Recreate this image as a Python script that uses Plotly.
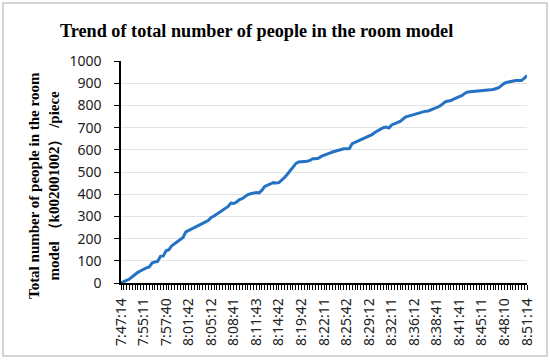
import plotly.graph_objects as go

# Data
people = [
    0, 5, 10, 18, 28, 40, 48, 55, 62, 68,
    72, 90, 95, 97, 120, 122, 145, 150, 168, 178,
    188, 198, 205, 230, 236, 242, 250, 256, 262, 268,
    275, 282, 295, 302, 310, 320, 330, 338, 345, 360,
    358, 365, 376, 380, 388, 398, 402, 405, 408, 406,
    418, 435, 442, 446, 452, 450, 452, 462, 475, 490,
    505, 520, 538, 545, 545, 545, 548, 552, 560, 560,
    562, 570, 576, 580, 585, 590, 594, 597, 600, 605,
    605, 606, 628, 634, 640, 645, 650, 656, 662, 668,
    678, 686, 694, 700, 702, 698, 712, 716, 722, 728,
    738, 748, 752, 756, 760, 764, 768, 772, 774, 775,
    780, 786, 790, 796, 806, 816, 820, 822, 828, 835,
    840, 845, 855, 860, 861, 862, 862, 864, 866, 868,
    869, 870, 872, 876, 880, 890, 900, 904, 907, 910,
    912, 912, 912, 922, 935,
]
time_labels = [
    "7:47:14", "7:55:11", "7:57:40", "8:01:42", "8:05:12", "8:08:41",
    "8:11:43", "8:14:42", "8:19:42", "8:22:11", "8:25:42", "8:29:12",
    "8:32:11", "8:36:12", "8:38:41", "8:41:41", "8:45:11", "8:48:10",
    "8:51:14",
]
label_step = 8
y_ticks = list(range(0, 1001, 100))

idx = list(range(len(people)))
tick_pos = [i * label_step for i in range(len(time_labels))]

fig = go.Figure()
fig.add_trace(go.Scatter(
    x=idx, y=people, mode="lines",
    line=dict(color="#2472c4", width=3),
    hoverinfo="skip",
))

L, R, T, B = 121, 23, 61, 79
W, H = 550, 362
pw, ph = W - L - R, H - T - B

def px_x(p):
    return (p - L) / pw

def px_y(p):
    return (H - B - p) / ph

fig.update_layout(
    width=W, height=H,
    margin=dict(l=L, r=R, t=T, b=B),
    paper_bgcolor="white", plot_bgcolor="white",
    showlegend=False,
    xaxis=dict(
        range=[0, len(people) - 1],
        tickmode="array", tickvals=tick_pos, ticktext=time_labels,
        tickangle=-90,
        ticks="outside", ticklen=5, tickcolor="black", tickwidth=1,
        minor=dict(ticks="outside", ticklen=5, tickcolor="black", dtick=1, tickwidth=1, showgrid=False),
        showline=True, linecolor="black", linewidth=1.5,
        showgrid=False, zeroline=False,
        tickfont=dict(family="Noto Sans", size=14, color="#222"),
        ticklabelstandoff=3,
    ),
    yaxis=dict(
        range=[0, 1000],
        tickmode="array", tickvals=y_ticks,
        ticks="outside", ticklen=5, tickcolor="black",
        showline=True, linecolor="black", linewidth=1.5,
        showgrid=True, gridcolor="#e3e3e3", gridwidth=1,
        zeroline=False,
        tickfont=dict(family="Noto Sans", size=14, color="#222"),
        ticklabelstandoff=10,
    ),
)

fig.add_annotation(
    text="<b>Trend of total number of people in the room model</b>",
    xref="paper", yref="paper",
    x=px_x(256), y=px_y(31),
    xanchor="center", yanchor="middle", showarrow=False,
    font=dict(family="Liberation Serif", size=18.2, color="black"),
)

fig.add_annotation(
    text="<b>Total number of people in the room</b><br><b>model （k002001002） /piece</b>",
    xref="paper", yref="paper",
    x=px_x(44), y=px_y(186),
    xanchor="center", yanchor="middle",
    textangle=-90, showarrow=False,
    font=dict(family="Liberation Serif", size=15, color="black"),
)

fig.add_shape(
    type="rect", xref="paper", yref="paper",
    x0=px_x(3), x1=px_x(547),
    y0=px_y(356), y1=px_y(3),
    line=dict(color="#c8c8c8", width=1.5), fillcolor="rgba(0,0,0,0)",
    layer="above",
)

fig.write_html(
    "out.html",
    config={"displayModeBar": False},
    post_script="document.body.style.margin='0';document.body.style.overflow='hidden';",
)
